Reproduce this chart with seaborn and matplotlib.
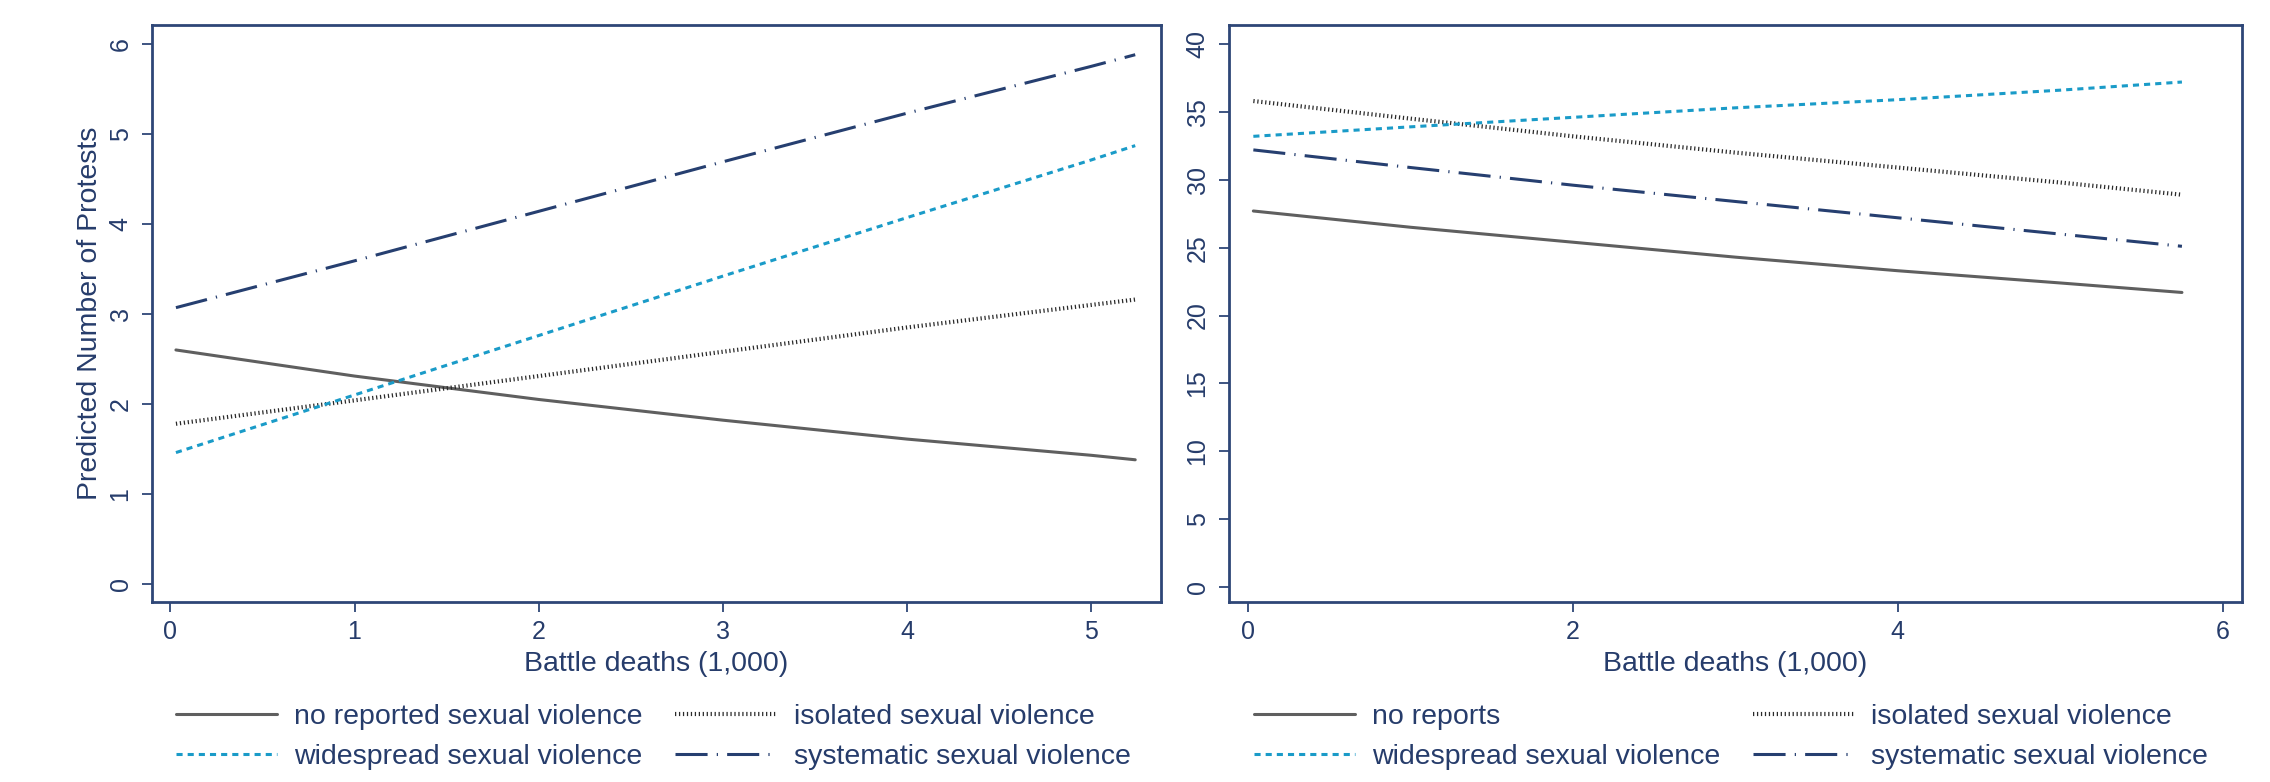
import numpy as np
import pandas as pd
import seaborn as sns
import matplotlib.pyplot as plt

# ---------------- data ----------------
x_left = [0.03, 1, 2, 3, 4, 5, 5.24]
left_none = [2.60, 2.31, 2.05, 1.82, 1.61, 1.43, 1.38]
left_isolated = [1.78, 2.04, 2.31, 2.58, 2.85, 3.10, 3.16]
left_widespread = [1.46, 2.10, 2.76, 3.42, 4.07, 4.71, 4.87]
left_systematic = [3.07, 3.59, 4.14, 4.69, 5.23, 5.75, 5.88]

x_right = [0.03, 1, 2, 3, 4, 5, 5.75]
right_none = [27.7, 26.5, 25.4, 24.3, 23.3, 22.4, 21.7]
right_isolated = [35.8, 34.5, 33.2, 32.0, 30.9, 29.8, 28.9]
right_widespread = [33.2, 33.9, 34.6, 35.3, 35.9, 36.6, 37.2]
right_systematic = [32.2, 30.9, 29.6, 28.4, 27.2, 26.0, 25.1]

left_labels = ["no reported sexual violence", "isolated sexual violence",
               "widespread sexual violence", "systematic sexual violence"]
right_labels = ["no reports", "isolated sexual violence",
                "widespread sexual violence", "systematic sexual violence"]

left_yticks = [0, 1, 2, 3, 4, 5, 6]
left_xticks = [0, 1, 2, 3, 4, 5]
right_yticks = [0, 5, 10, 15, 20, 25, 30, 35, 40]
right_xticks = [0, 2, 4, 6]

xlabel = "Battle deaths (1,000)"
ylabel_left = "Predicted Number of Protests"

# ---------------- style ----------------
sns.set_theme(style="white")
plt.rcParams['font.family'] = ['Liberation Sans', 'DejaVu Sans']

TXT = '#263c6b'
FRAME = '#2e4677'
colors = ['#5f5f5f', '#2a2a2a', '#1a9bc8', '#263f70']
dash_styles = ['', (0.3, 0.65), (2.0, 1.65), (10.5, 3.0, 0.4, 3.0)]
LW = 2.2
FS = 20.5
TFS = 18

fig = plt.figure(figsize=(22.7, 7.82), dpi=100)
W, H = 2270, 782
axL = fig.add_axes([152 / W, 1 - 602 / H, (1161 - 152) / W, (602 - 25) / H])
axR = fig.add_axes([1229 / W, 1 - 602 / H, (2242 - 1229) / W, (602 - 25) / H])


def make_df(x, series, labels):
    rows = []
    for lab, ys in zip(labels, series):
        for xv, yv in zip(x, ys):
            rows.append({'x': xv, 'y': yv, 'group': lab})
    return pd.DataFrame(rows)


def draw(ax, x, series, labels, yticks, xticks, ylim, xlim):
    df = make_df(x, series, labels)
    pal = dict(zip(labels, colors))
    dsh = dict(zip(labels, dash_styles))
    sns.lineplot(data=df, x='x', y='y', hue='group', style='group',
                 hue_order=labels, style_order=labels, palette=pal,
                 dashes=dsh, linewidth=LW, ax=ax, legend=False)
    ax.lines[1].set_linewidth(3.0)
    ax.set_ylim(*ylim)
    ax.set_xlim(*xlim)
    ax.set_yticks(yticks)
    ax.set_xticks(xticks)
    ax.set_xlabel(xlabel, fontsize=FS, color=TXT, labelpad=5)
    ax.set_ylabel('')
    for s in ax.spines.values():
        s.set_visible(True)
        s.set_color(FRAME)
        s.set_linewidth(2.0)
    ax.tick_params(axis='both', which='major', direction='out', length=7,
                   width=1.3, color=FRAME, labelcolor=TXT, labelsize=TFS,
                   left=True, bottom=True)
    ax.tick_params(axis='y', labelrotation=90, pad=7)
    ax.tick_params(axis='x', pad=6)
    for t in ax.get_yticklabels():
        t.set_va('center')
    lines = ax.lines[:4]
    order = [0, 2, 1, 3]
    return [lines[i] for i in order], [labels[i] for i in order]


hL, lL = draw(axL, x_left, [left_none, left_isolated, left_widespread, left_systematic],
              left_labels, left_yticks, left_xticks, (-0.2, 6.21), (-0.1, 5.38))
axL.set_ylabel(ylabel_left, fontsize=FS, color=TXT)
axL.yaxis.set_label_coords((90 - 152) / (1161 - 152), 0.5)
axL.yaxis.label.set_va('center')

hR, lR = draw(axR, x_right, [right_none, right_isolated, right_widespread, right_systematic],
              right_labels, right_yticks, right_xticks, (-1.1, 41.4), (-0.12, 6.12))

for ax, h, l, x0 in [(axL, hL, lL, 176), (axR, hR, lR, 1254)]:
    leg = fig.legend(h, l, loc='upper left', bbox_to_anchor=(x0 / W, 1 - 704 / H),
                     bbox_transform=fig.transFigure, ncol=2, frameon=False,
                     fontsize=FS, handlelength=3.55, handletextpad=0.6,
                     columnspacing=1.15, labelspacing=0.5, borderpad=0,
                     borderaxespad=0)
    for t in leg.get_texts():
        t.set_color(TXT)

fig.savefig('out.png', dpi=100, facecolor='white')
